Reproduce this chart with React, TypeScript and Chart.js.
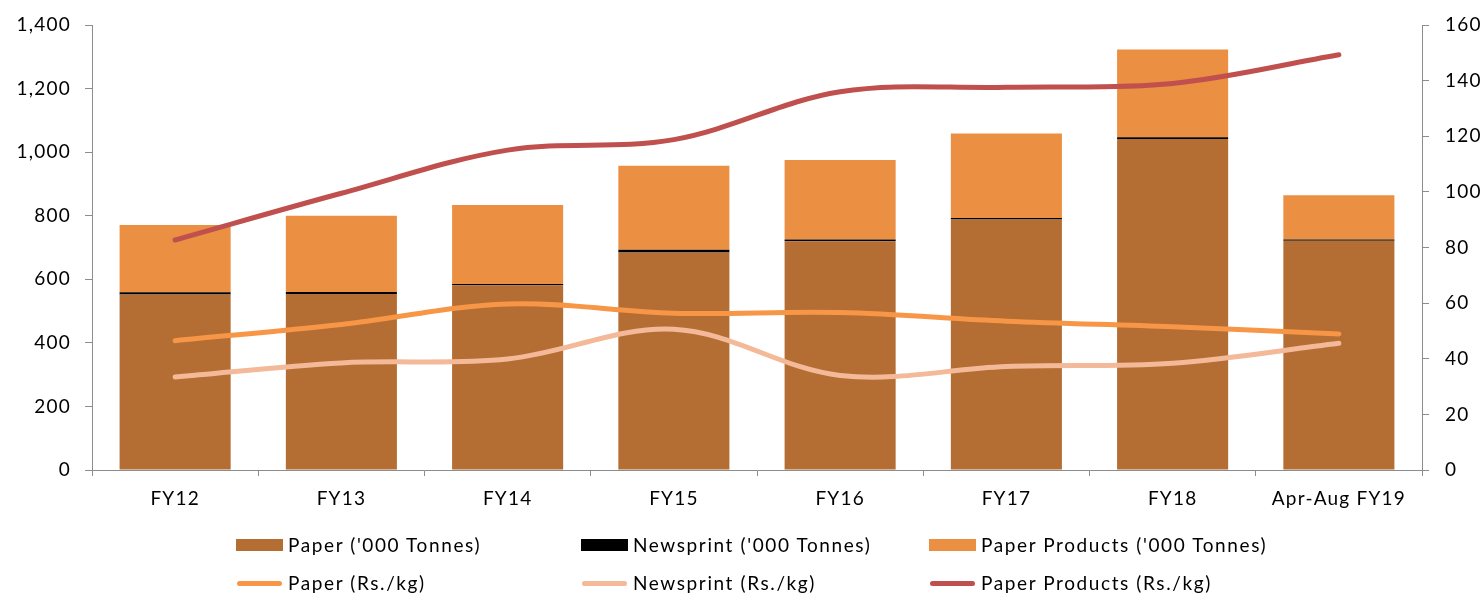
import React, { useEffect, useRef } from "react";
import { Chart, registerables } from "chart.js";

Chart.register(...registerables);

// Fiscal-year categories
const categories = ["FY12", "FY13", "FY14", "FY15", "FY16", "FY17", "FY18", "Apr-Aug FY19"];

// Production volumes ('000 tonnes), stacked
const paperVolume = [552, 554, 581, 684, 720, 788, 1041, 721];
const newsprintVolume = [7, 6, 4, 9, 5, 5, 6, 4];
const paperProductsVolume = [212, 240, 249, 264, 250, 266, 276, 139];

// Prices (Rs./kg), right axis
const paperPrice = [46.5, 52.3, 59.7, 56.4, 56.6, 53.5, 51.5, 48.9];
const newsprintPrice = [33.4, 38.5, 39.9, 50.6, 34.0, 37.2, 38.4, 45.6];
const paperProductsPrice = [82.7, 99.5, 115, 118.8, 136, 137.6, 139, 149.3];

// Axis tick settings
const volumeTicks = { min: 0, max: 1400, step: 200 };
const priceTicks = { min: 0, max: 160, step: 20 };

const COLORS = {
  paperBar: "#B46D32",
  newsprintBar: "#000000",
  productsBar: "#EB8F43",
  paperLine: "#F79646",
  newsprintLine: "#F4B998",
  productsLine: "#C0504D",
  axis: "#8C8C8C",
};

const FONT = "Lato, 'Noto Sans', sans-serif";

const legendItems = [
  { label: "Paper ('000 Tonnes)", color: COLORS.paperBar, kind: "box", left: 236, top: 539 },
  { label: "Newsprint ('000 Tonnes)", color: COLORS.newsprintBar, kind: "box", left: 581, top: 539 },
  { label: "Paper Products ('000 Tonnes)", color: COLORS.productsBar, kind: "box", left: 929, top: 539 },
  { label: "Paper (Rs./kg)", color: COLORS.paperLine, kind: "line", left: 236, top: 577 },
  { label: "Newsprint (Rs./kg)", color: COLORS.newsprintLine, kind: "line", left: 581, top: 577 },
  { label: "Paper Products (Rs./kg)", color: COLORS.productsLine, kind: "line", left: 929, top: 577 },
];

// Slightly wider tick lettering
const tickSpacing = {
  id: "tickSpacing",
  beforeDraw(chart: any) {
    chart.ctx.letterSpacing = "1.2px";
  },
};

// Fixed axis widths; the plot top is set by layout padding alone
const fitVertical = (width: number) => (scale: any) => {
  scale.width = width;
  scale.paddingTop = 0;
  scale.paddingBottom = 0;
};

export default function App() {
  const canvasRef = useRef<HTMLCanvasElement | null>(null);

  useEffect(() => {
    const canvas = canvasRef.current;
    if (!canvas) return;

    const lineDataset = (label: string, data: number[], color: string) => ({
      type: "line" as const,
      label,
      data,
      yAxisID: "y1",
      borderColor: color,
      backgroundColor: color,
      borderWidth: 5,
      borderCapStyle: "round" as const,
      borderJoinStyle: "round" as const,
      pointRadius: 0,
      tension: 0.35,
      fill: false,
      order: 0,
    });

    const barDataset = (label: string, data: number[], color: string) => ({
      type: "bar" as const,
      label,
      data,
      yAxisID: "y",
      backgroundColor: color,
      borderWidth: 0,
      barPercentage: 0.668,
      categoryPercentage: 1,
      order: 1,
    });

    const chart = new Chart(canvas, {
      data: {
        labels: categories,
        datasets: [
          barDataset("Paper ('000 Tonnes)", paperVolume, COLORS.paperBar),
          barDataset("Newsprint ('000 Tonnes)", newsprintVolume, COLORS.newsprintBar),
          barDataset("Paper Products ('000 Tonnes)", paperProductsVolume, COLORS.productsBar),
          lineDataset("Paper (Rs./kg)", paperPrice, COLORS.paperLine),
          lineDataset("Newsprint (Rs./kg)", newsprintPrice, COLORS.newsprintLine),
          lineDataset("Paper Products (Rs./kg)", paperProductsPrice, COLORS.productsLine),
        ],
      } as any,
      options: {
        responsive: false,
        animation: false,
        layout: { padding: { top: 25, left: 0, right: 0, bottom: 0 } },
        plugins: {
          legend: { display: false },
          tooltip: { enabled: false },
        },
        scales: {
          x: {
            stacked: true,
            offset: true,
            grid: {
              display: true,
              offset: true,
              drawOnChartArea: false,
              drawTicks: true,
              tickLength: 6,
              color: COLORS.axis,
              lineWidth: 1,
            },
            border: { display: true, color: COLORS.axis, width: 1 },
            ticks: {
              color: "#000",
              font: { family: FONT, size: 19 },
              padding: 11,
              maxRotation: 0,
              autoSkip: false,
            },
            afterFit: (scale: any) => {
              scale.height = 124;
            },
          },
          y: {
            type: "linear",
            position: "left",
            stacked: true,
            min: volumeTicks.min,
            max: volumeTicks.max,
            grid: {
              display: true,
              drawOnChartArea: false,
              drawTicks: true,
              tickLength: 7,
              color: COLORS.axis,
            },
            border: { display: true, color: COLORS.axis, width: 1 },
            ticks: {
              stepSize: volumeTicks.step,
              color: "#000",
              font: { family: FONT, size: 19 },
              padding: 14,
              callback: (v: any) => Number(v).toLocaleString("en-US"),
            },
            afterFit: fitVertical(92),
          },
          y1: {
            type: "linear",
            position: "right",
            stacked: false,
            min: priceTicks.min,
            max: priceTicks.max,
            grid: {
              display: true,
              drawOnChartArea: false,
              drawTicks: true,
              tickLength: 7,
              color: COLORS.axis,
            },
            border: { display: true, color: COLORS.axis, width: 1 },
            ticks: {
              stepSize: priceTicks.step,
              color: "#000",
              font: { family: FONT, size: 19 },
              padding: 16,
            },
            afterFit: fitVertical(61),
          },
        },
      } as any,
      plugins: [tickSpacing],
    });

    return () => chart.destroy();
  }, []);

  return (
    <div
      style={{
        position: "fixed",
        left: 0,
        top: 0,
        width: 1483,
        height: 594,
        background: "#fff",
        overflow: "hidden",
      }}
    >
      <canvas ref={canvasRef} width={1483} height={594} style={{ display: "block" }} />
      {legendItems.map((item) => (
        <div
          key={item.label}
          style={{
            position: "absolute",
            left: item.left,
            top: item.top - 6,
            height: 22,
            display: "flex",
            alignItems: "center",
            fontFamily: FONT,
            fontSize: 19,
            letterSpacing: "1.6px",
            color: "#000",
            whiteSpace: "nowrap",
          }}
        >
          {item.kind === "box" ? (
            <span
              style={{
                display: "inline-block",
                width: 47,
                height: 12,
                background: item.color,
                marginRight: 5,
                marginTop: 2,
              }}
            />
          ) : (
            <span
              style={{
                display: "inline-block",
                width: 45,
                height: 5,
                borderRadius: 3,
                background: item.color,
                marginLeft: 1,
                marginRight: 6,
                marginTop: 2,
              }}
            />
          )}
          <span>{item.label}</span>
        </div>
      ))}
    </div>
  );
}
